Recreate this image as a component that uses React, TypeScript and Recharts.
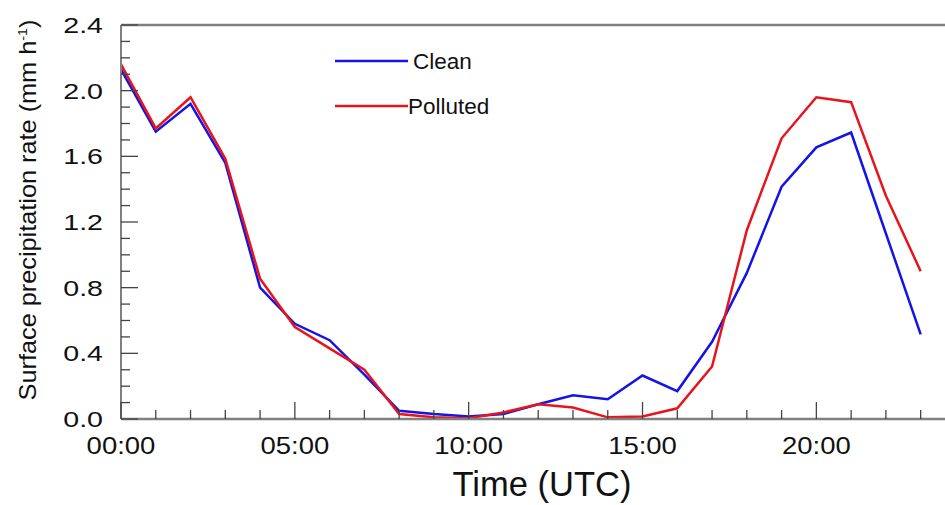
import React from 'react';
import { LineChart, Line, XAxis, YAxis, ReferenceLine, Legend } from 'recharts';

const hours = [0, 1, 2, 3, 4, 5, 6, 7, 8, 9, 10, 11, 12, 13, 14, 15, 16, 17, 18, 19, 20, 21, 22, 23];
const clean = [2.13, 1.75, 1.92, 1.56, 0.80, 0.58, 0.48, 0.27, 0.05, 0.03, 0.015, 0.03, 0.09, 0.145, 0.12, 0.265, 0.17, 0.47, 0.89, 1.415, 1.655, 1.745, 1.13, 0.515];
const polluted = [2.16, 1.77, 1.96, 1.585, 0.855, 0.56, 0.43, 0.30, 0.03, 0.01, 0.005, 0.04, 0.09, 0.07, 0.01, 0.015, 0.065, 0.32, 1.15, 1.71, 1.96, 1.93, 1.36, 0.90];

const yMajor = [0, 0.4, 0.8, 1.2, 1.6, 2.0, 2.4];
// minor ticks every 0.1
const yTicks: number[] = [];
for (let i = 0; i <= 24; i++) yTicks.push(i / 10);

const font = '"Liberation Sans", Arial, sans-serif';
const axisColor = '#808080';

const data = hours.map((h, i) => ({ hour: h, clean: clean[i], polluted: polluted[i] }));

const fmtHour = (h: number) => `${String(h).padStart(2, '0')}:00`;

// the original text is a bit wider than plain Arial, so stretch it horizontally
const Wide = ({ x, y, sx, size, anchor, children }: any) => (
  <text
    transform={`translate(${x},${y}) scale(${sx},1)`}
    textAnchor={anchor}
    fontSize={size}
    fontFamily={font}
    fill="#111"
  >
    {children}
  </text>
);

const XTick = (props: any) => {
  const { x, y, payload } = props;
  const major = payload.value % 5 === 0;
  return (
    <g>
      <line x1={x} x2={x} y1={y} y2={y - (major ? 17 : 9)} stroke="#444" strokeWidth={1.3} />
      {major && (
        <Wide x={x} y={y + 35} sx={1.17} size={23.5} anchor="middle">
          {fmtHour(payload.value)}
        </Wide>
      )}
    </g>
  );
};

const YTick = (props: any) => {
  const { x, y, payload } = props;
  const major = yMajor.some(v => Math.abs(v - payload.value) < 1e-6);
  return (
    <g>
      <line x1={x} x2={x + (major ? 17 : 9)} y1={y} y2={y} stroke="#444" strokeWidth={1.3} />
      {major && (
        <Wide x={x - 18} y={y + 8} sx={1.3} size={22} anchor="end">
          {payload.value.toFixed(1)}
        </Wide>
      )}
    </g>
  );
};

const LegendBox = (props: any) => {
  const items = props.payload || [];
  return (
    <svg width={200} height={70} style={{ overflow: 'visible', display: 'block' }}>
      {items.map((it: any, i: number) => (
        <g key={it.value}>
          <line x1={0} x2={73} y1={13 + i * 45} y2={13 + i * 45} stroke={it.color} strokeWidth={2.5} />
          <text x={i === 0 ? 78 : 73} y={13 + i * 45} dy="0.36em" fontSize={22.5} fontFamily={font} fill="#111">
            {it.value}
          </text>
        </g>
      ))}
    </svg>
  );
};

export default function App() {
  return (
    <div style={{ width: 945, height: 505, background: '#fff' }}>
      <style>{'body{margin:0}'}</style>
      <LineChart width={945} height={505} data={data} margin={{ top: 25, right: 0, left: 0, bottom: 0 }}>
        <XAxis
          dataKey="hour"
          type="number"
          domain={[0, 23.7]}
          ticks={hours}
          interval={0}
          tickSize={0}
          tickMargin={0}
          tickLine={false}
          tick={<XTick />}
          height={86}
          axisLine={{ stroke: axisColor, strokeWidth: 2.5 }}
          allowDataOverflow
          label={(p: any) => {
            const vb = p.viewBox;
            return (
              <text x={vb.x + vb.width / 2 + 9} y={vb.y + 77} textAnchor="middle" fontSize={34.5} fontFamily={font} fill="#111">
                Time (UTC)
              </text>
            );
          }}
        />
        <YAxis
          type="number"
          domain={[0, 2.4]}
          ticks={yTicks}
          interval={0}
          width={121}
          tickSize={0}
          tickMargin={0}
          tickLine={false}
          tick={<YTick />}
          axisLine={{ stroke: axisColor, strokeWidth: 2 }}
          allowDataOverflow
          label={() => {
            const cx = 36;
            const cy = 210;
            return (
              <text
                transform={`translate(${cx},${cy}) rotate(-90) scale(1.1,1)`}
                textAnchor="middle"
                fontSize={23}
                fontFamily={font}
                fill="#111"
              >
                Surface precipitation rate (mm h
                <tspan dy={-9} fontSize={13}>-1</tspan>
                <tspan dy={9}>)</tspan>
              </text>
            );
          }}
        />
        <ReferenceLine y={2.4} stroke={axisColor} strokeWidth={2.5} ifOverflow="visible" />
        <Legend
          layout="horizontal"
          verticalAlign="middle"
          align="center"
          content={<LegendBox />}
          wrapperStyle={{ position: 'absolute', left: 335, top: 48, width: 200, height: 70 }}
        />
        <Line type="linear" dataKey="clean" name="Clean" stroke="#1414e6" strokeWidth={2.5} dot={false} isAnimationActive={false} />
        <Line type="linear" dataKey="polluted" name="Polluted" stroke="#e8141c" strokeWidth={2.5} dot={false} isAnimationActive={false} />
      </LineChart>
    </div>
  );
}
